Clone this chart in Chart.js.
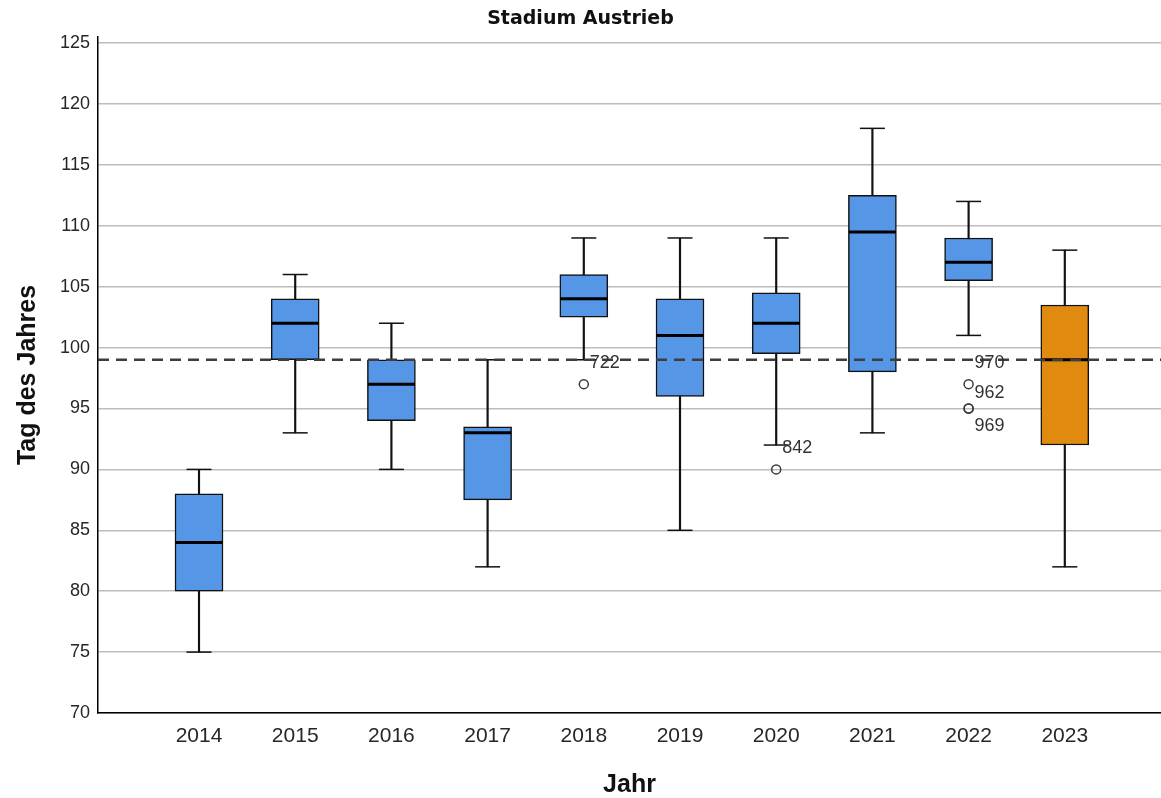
<!DOCTYPE html>
<html>
<head>
<meta charset="utf-8">
<title>Stadium Austrieb</title>
<script src="https://cdn.jsdelivr.net/npm/chart.js@4/dist/chart.umd.min.js"></script>
<style>
  html, body { margin: 0; padding: 0; background: #ffffff; }
  canvas { display: block; }
</style>
</head>
<body>
<canvas id="chart" width="1161" height="798"></canvas>
<script>
// Box-plot statistics per year (day of year)
const years       = [2014, 2015, 2016, 2017, 2018, 2019, 2020, 2021, 2022, 2023];
const whiskerLow  = [75,   93,   90,   82,   99,   85,   92,   93,   101,  82];
const quartile1   = [80,   99,   94,   87.5, 102.5, 96,  99.5, 98,   105.5, 92];
const medianDay   = [84,   102,  97,   93,   104,  101,  102,  109.5, 107,  99];
const quartile3   = [88,   104,  99,   93.5, 106,  104,  104.5, 112.5, 109, 103.5];
const whiskerHigh = [90,   106,  102,  99,   109,  109,  109,  118,  112,  108];

// Outliers: year, value and case number
const outlierYear  = [2018, 2020, 2022, 2022, 2022];
const outlierValue = [97,   90,   95,   97,   95];
const outlierCase  = ['722', '842', '970', '962', '969'];

// Reference line (dashed)
const referenceDay = 99;

// Y axis tick labels
const yTicks = [70, 75, 80, 85, 90, 95, 100, 105, 110, 115, 120, 125];

// Styling
const BLUE = '#5596e6';
const ORANGE = '#e08a10';
const boxColors = years.map((y, i) => i === years.length - 1 ? ORANGE : BLUE);
const labelOffsetY = [-21, -21, -45, 9, 18];
const X_MIN = -1.05, X_MAX = 10.0;
const FAMILY = '"Liberation Sans", Arial, sans-serif';
const AXIS_TITLE_FONT = { family: FAMILY, size: 25, weight: 'bold', lineHeight: 1 };

const yearIdx = years.map((_, i) => i);
const pts = (vals) => vals.map((v, i) => ({ x: i, y: v }));

const outlierLabels = {
  id: 'outlierLabels',
  afterDatasetsDraw(chart) {
    const { ctx, scales: { x, y } } = chart;
    ctx.save();
    ctx.font = '18px ' + FAMILY;
    ctx.fillStyle = '#333333';
    ctx.textAlign = 'left';
    ctx.textBaseline = 'middle';
    outlierCase.forEach((id, k) => {
      const px = x.getPixelForValue(years.indexOf(outlierYear[k]));
      const py = y.getPixelForValue(outlierValue[k]);
      ctx.fillText(id, px + 6, py + labelOffsetY[k]);
    });
    ctx.restore();
  }
};

new Chart(document.getElementById('chart'), {
  type: 'bar',
  data: {
    datasets: [
      {
        type: 'line',
        label: 'Referenz',
        data: [{ x: X_MIN, y: referenceDay }, { x: X_MAX, y: referenceDay }],
        borderColor: '#3d3d3d',
        borderWidth: 2.5,
        borderDash: [11, 7],
        pointRadius: 0,
        order: 0
      },
      {
        type: 'scatter',
        label: 'Ausreißer',
        data: outlierValue.map((v, k) => ({ x: years.indexOf(outlierYear[k]), y: v })),
        pointStyle: 'circle',
        pointRadius: 4.5,
        borderWidth: 1.5,
        borderColor: '#3a3a3a',
        backgroundColor: 'rgba(0,0,0,0)',
        order: 1
      },
      {
        type: 'scatter',
        label: 'Median',
        data: pts(medianDay),
        pointStyle: 'line',
        pointRadius: 23.5,
        borderWidth: 3,
        borderColor: '#000000',
        order: 2
      },
      {
        type: 'bar',
        label: 'Quartile',
        data: yearIdx.map(i => ({ x: i, y: [quartile1[i], quartile3[i]] })),
        backgroundColor: boxColors,
        borderColor: '#111111',
        borderWidth: 1.5,
        borderSkipped: false,
        barThickness: 48,
        grouped: false,
        order: 3
      },
      {
        type: 'scatter',
        label: 'Minimum',
        data: pts(whiskerLow),
        pointStyle: 'line',
        pointRadius: 12.5,
        borderWidth: 1.5,
        borderColor: '#111111',
        order: 4
      },
      {
        type: 'scatter',
        label: 'Maximum',
        data: pts(whiskerHigh),
        pointStyle: 'line',
        pointRadius: 12.5,
        borderWidth: 1.5,
        borderColor: '#111111',
        order: 4
      },
      {
        type: 'bar',
        label: 'Whisker',
        data: yearIdx.map(i => ({ x: i, y: [whiskerLow[i], whiskerHigh[i]] })),
        backgroundColor: '#111111',
        barThickness: 1.5,
        grouped: false,
        order: 5
      }
    ]
  },
  options: {
    responsive: false,
    animation: false,
    layout: { padding: 0, autoPadding: false },
    plugins: {
      legend: { display: false },
      tooltip: { enabled: false },
      title: {
        display: true,
        text: 'Stadium Austrieb',
        color: '#111111',
        font: { family: '"DejaVu Sans", sans-serif', size: 19, weight: 'bold', lineHeight: 1.2 },
        padding: { top: 8, bottom: 6.2 }
      }
    },
    scales: {
      x: {
        type: 'linear',
        offset: false,
        min: X_MIN,
        max: X_MAX,
        grid: { display: false, drawTicks: false },
        border: { display: true, color: '#000000', width: 1.5 },
        afterBuildTicks: (s) => { s.ticks = yearIdx.map(v => ({ value: v })); },
        afterFit: (s) => { s.height = 85; },
        ticks: {
          autoSkip: false,
          maxRotation: 0,
          padding: 11,
          color: '#262626',
          font: { family: FAMILY, size: 21 },
          callback: (v) => (years[v] !== undefined ? String(years[v]) : '')
        },
        title: {
          display: true,
          text: 'Jahr',
          color: '#111111',
          font: AXIS_TITLE_FONT,
          padding: { top: 0, bottom: 0 }
        }
      },
      y: {
        min: 70,
        max: 125.5,
        afterBuildTicks: (s) => { s.ticks = yTicks.map(v => ({ value: v })); },
        afterFit: (s) => { s.width = 98; },
        grid: { color: '#bdbdbd', lineWidth: 1.5, drawTicks: false },
        border: { display: true, color: '#000000', width: 1.5 },
        ticks: {
          padding: 8,
          color: '#262626',
          font: { family: FAMILY, size: 18 },
          callback: (v) => String(v)
        },
        title: {
          display: true,
          text: 'Tag des Jahres',
          color: '#111111',
          font: AXIS_TITLE_FONT,
          padding: { top: 15.5, bottom: 0 }
        }
      }
    }
  },
  plugins: [outlierLabels]
});
</script>
</body>
</html>
